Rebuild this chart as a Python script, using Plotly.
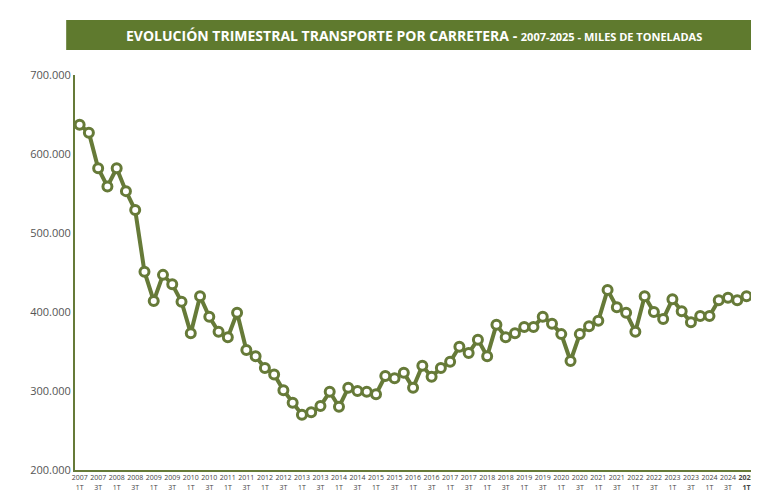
import plotly.graph_objects as go

values = [637,627,582,559,582,553,529,451,414,447,435,413,373,420,394,375,368,399,
          352,344,329,321,301,285,270,273,281,299,280,304,300,299,296,319,316,323,
          304,332,318,329,337,356,348,365,344,384,368,373,381,381,394,385,372,338,
          372,382,389,428,406,399,375,420,400,391,416,401,387,395,395,415,418,415,420]
values = [v*1000 for v in values]
years = list(range(2007, 2026))
quarters = []
for y in years:
    for q in ["1T","2T","3T","4T"]:
        quarters.append(f"{y} {q}")
quarters = quarters[:len(values)]
tickvals = quarters[::2]
ticktext = []
for i, q in enumerate(tickvals):
    y, t = q.split()
    lab = f"{y}<br>{t}"
    if i == len(tickvals)-1:
        lab = f"<b>{y}<br>{t}</b>"
    ticktext.append(lab)

green = "#667a38"
fig = go.Figure(go.Scatter(
    x=quarters, y=values, mode="lines+markers",
    line=dict(color=green, width=4),
    marker=dict(size=9, color="white", line=dict(color=green, width=3)),
))
fig.update_layout(
    width=759, height=502, paper_bgcolor="white", plot_bgcolor="white",
    margin=dict(l=67, r=14, t=67, b=40, autoexpand=False), showlegend=False,
    font=dict(family="Open Sans", color="#444"),
    shapes=[dict(type="rect", xref="paper", yref="paper", x0=-0.013, x1=1.0,
                 y0=1.063, y1=1.139, fillcolor="#5f7a2e", line=dict(width=0))],
    annotations=[dict(xref="paper", yref="paper", x=0.5, y=1.101, yanchor="middle",
        showarrow=False,
        text="<b>EVOLUCIÓN TRIMESTRAL TRANSPORTE POR CARRETERA - </b><b><span style='font-size:11px'>2007-2025 - MILES DE TONELADAS</span></b>",
        font=dict(color="white", size=14, family="Open Sans"))],
    separators=",.",
)
fig.update_xaxes(type="category", tickvals=tickvals, ticktext=ticktext, tickangle=0,
                 tickfont=dict(size=7, color="#444"), showgrid=False, showline=True,
                 linecolor=green, linewidth=2, ticks="", automargin=False,
                 range=[-0.5, len(values)-0.3])
fig.update_yaxes(range=[200000, 700000], dtick=100000, tickformat=",.0f",
                 showgrid=False, showline=True, automargin=False,
                 linecolor=green, linewidth=2, tickfont=dict(size=11, color="#555"))
fig.write_html("out.html")
